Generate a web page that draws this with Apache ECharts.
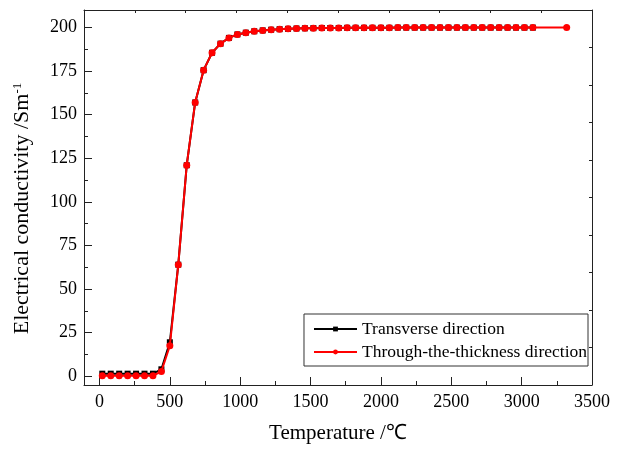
<!DOCTYPE html>
<html>
<head>
<meta charset="utf-8">
<script src="https://cdn.jsdelivr.net/npm/echarts@6/dist/echarts.min.js"></script>
<style>html,body{margin:0;padding:0;background:#fff}#c{width:619px;height:449px}</style>
</head>
<body>
<div id="c"></div>
<script>
var temps = [20,80,140,200,260,320,380,440,500,560,620,680,740,800,860,920,980,1040,1100,1160,1220,1280,1340,1400,1460,1520,1580,1640,1700,1760,1820,1880,1940,2000,2060,2120,2180,2240,2300,2360,2420,2480,2540,2600,2660,2720,2780,2840,2900,2960,3020,3080];
var tempsThrough = [20,80,140,200,260,320,380,440,500,560,620,680,740,800,860,920,980,1040,1100,1160,1220,1280,1340,1400,1460,1520,1580,1640,1700,1760,1820,1880,1940,2000,2060,2120,2180,2240,2300,2360,2420,2480,2540,2600,2660,2720,2780,2840,2900,2960,3020,3080,3320];
var transverse = [1.5,1.5,1.5,1.5,1.5,1.5,1.5,4,19.5,64,121,157,175.5,185.5,190.7,194,196,197,197.8,198.3,198.7,199,199.2,199.4,199.5,199.6,199.7,199.7,199.7,199.8,199.8,199.8,199.8,199.8,199.8,199.9,199.9,199.9,199.9,199.9,199.9,199.9,199.9,199.9,199.9,199.9,199.9,199.9,199.9,199.9,199.9,199.9];
var through = [0.3,0.3,0.3,0.3,0.3,0.3,0.3,2.8,17.5,64,121,157,175.5,185.5,190.7,194,196,197,197.8,198.3,198.7,199,199.2,199.4,199.5,199.6,199.7,199.7,199.7,199.8,199.8,199.8,199.8,199.8,199.8,199.9,199.9,199.9,199.9,199.9,199.9,199.9,199.9,199.9,199.9,199.9,199.9,199.9,199.9,199.9,199.9,199.9,200];
var xMajor = [0,500,1000,1500,2000,2500,3000,3500];
var xMinor = [250,750,1250,1750,2250,2750,3250];
var yMajor = [0,25,50,75,100,125,150,175,200];
var yMinor = [12.5,37.5,62.5,87.5,112.5,137.5,162.5,187.5];

function pairs(xs, ys){ var o=[]; for(var i=0;i<xs.length;i++){o.push([xs[i],ys[i]]);} return o; }
function plain(v){ return String(v); }

var FONT = 'Liberation Serif';
var AX = '#222';
var chart = echarts.init(document.getElementById('c'));
chart.setOption({
  animation:false,
  backgroundColor:'#fff',
  grid:{left:84,right:27,top:10,bottom:61,containLabel:false},
  legend:{
    orient:'vertical', right:31, top:314,
    backgroundColor:'#fff', borderColor:'#333', borderWidth:1,
    padding:[6,1,5,9], itemGap:5, itemWidth:43, itemHeight:6,
    textStyle:{fontFamily:FONT,fontSize:17.5,color:'#000'},
    data:['Transverse direction','Through-the-thickness direction']
  },
  xAxis:[
    {type:'value',position:'bottom',min:-110,max:3500,
     axisLine:{show:true,onZero:false,lineStyle:{color:AX,width:1}},
     axisTick:{show:true,inside:true,length:8,customValues:xMajor,lineStyle:{color:AX}},
     axisLabel:{customValues:xMajor,formatter:plain,fontFamily:FONT,fontSize:18,color:'#000',margin:8},
     splitLine:{show:false},
     name:'Temperature /℃',nameLocation:'middle',nameGap:38,
     nameTextStyle:{fontFamily:FONT,fontSize:21,color:'#000'}},
    {type:'value',position:'bottom',min:-110,max:3500,
     axisLine:{show:false,onZero:false},
     axisTick:{show:true,inside:true,length:4,customValues:xMinor,lineStyle:{color:AX}},
     axisLabel:{show:false},splitLine:{show:false}},
    {type:'value',position:'top',min:0,max:10,interval:1,
     axisLine:{show:true,onZero:false,lineStyle:{color:AX,width:1}},
     axisTick:{show:true,inside:true,length:3,lineStyle:{color:AX}},
     axisLabel:{show:false},splitLine:{show:false}}
  ],
  yAxis:[
    {type:'value',position:'left',min:-5,max:210,
     axisLine:{show:true,onZero:false,lineStyle:{color:AX,width:1}},
     axisTick:{show:true,inside:true,length:8,customValues:yMajor,lineStyle:{color:AX}},
     axisLabel:{customValues:yMajor,formatter:plain,fontFamily:FONT,fontSize:18,color:'#000',margin:7},
     splitLine:{show:false},
     name:'{a|Electrical conductivity /Sm}{b|-1}',nameLocation:'middle',nameGap:50,
     nameTextStyle:{fontFamily:FONT,fontSize:22,color:'#000',padding:[0,22,0,0],
       rich:{a:{fontFamily:FONT,fontSize:22,color:'#000'},
             b:{fontFamily:FONT,fontSize:13,color:'#000',verticalAlign:'top',padding:[0,0,10,0]}}}},
    {type:'value',position:'left',min:-5,max:210,
     axisLine:{show:false,onZero:false},
     axisTick:{show:true,inside:true,length:4,customValues:yMinor,lineStyle:{color:AX}},
     axisLabel:{show:false},splitLine:{show:false}},
    {type:'value',position:'right',min:0,max:10,interval:1,
     axisLine:{show:true,onZero:false,lineStyle:{color:AX,width:1}},
     axisTick:{show:true,inside:true,length:3,lineStyle:{color:AX}},
     axisLabel:{show:false},splitLine:{show:false}}
  ],
  series:[
    {name:'Transverse direction',type:'line',xAxisIndex:0,yAxisIndex:0,
     data:pairs(temps,transverse),symbol:'rect',symbolSize:6,showAllSymbol:true,
     lineStyle:{color:'#000',width:2},itemStyle:{color:'#000'},z:2},
    {name:'Through-the-thickness direction',type:'line',xAxisIndex:0,yAxisIndex:0,
     data:pairs(tempsThrough,through),symbol:'circle',symbolSize:7,showAllSymbol:true,
     lineStyle:{color:'#ff0000',width:2},itemStyle:{color:'#ff0000'},z:3}
  ]
});
</script>
</body>
</html>
